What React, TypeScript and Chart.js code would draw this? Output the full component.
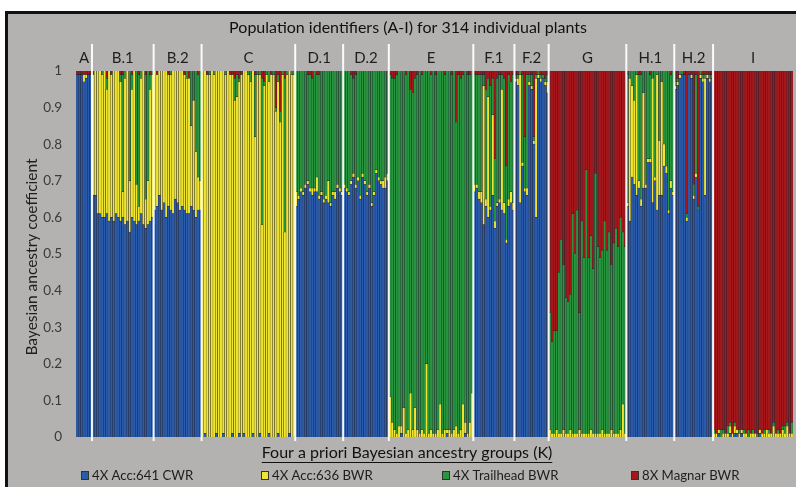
import React, { useEffect, useRef } from 'react';
import { Chart, registerables } from 'chart.js';

Chart.register(...registerables);

// ---------------- data ----------------
const groupNames = ['A', 'B.1', 'B.2', 'C', 'D.1', 'D.2', 'E', 'F.1', 'F.2', 'G', 'H.1', 'H.2', 'I'];
const groupSizes = [7, 27, 21, 41, 21, 20, 37, 18, 15, 34, 21, 17, 35];

const seriesNames = ['4X Acc:641 CWR', '4X Acc:636 BWR', '4X Trailhead BWR', '8X Magnar BWR'];

const yTickLabels = ['0', '0.1', '0.2', '0.3', '0.4', '0.5', '0.6', '0.7', '0.8', '0.9', '1'];

// ancestry coefficients in percent, one value per plant
const blueVals = [
  99, 99, 99, 97, 98, 99, 99, // A
  66, 66, 61, 61, 60, 60, 61, 59, 60, 59, 61, 60, 59, 60, 58, 59, 56, 60, 59, 58, 59, 61, 58, 57, 58, 59, 60, // B.1
  62, 63, 66, 62, 64, 60, 63, 62, 61, 65, 64, 62, 63, 62, 61, 61, 63, 62, 60, 62, 62, // B.2
  0, 1, 0, 0, 0, 0, 1, 0, 0, 1, 0, 0, 0, 1, 0, 0, 1, 0, 1, 0, 0, 0, 1, 0, 0, 1, 0, 0, 0, 1, 0, 0, 0, 1, 0, 0, 0, 0, 1, 0, 0, // C
  63, 65, 67, 66, 68, 69, 67, 66, 67, 67, 65, 66, 64, 65, 64, 63, 66, 65, 68, 67, 66, // D.1
  68, 67, 66, 69, 71, 68, 70, 65, 71, 69, 66, 68, 63, 66, 72, 70, 69, 68, 68, 70, // D.2
  0, 0, 0, 0, 0, 1, 0, 0, 0, 0, 0, 0, 0, 0, 0, 0, 0, 0, 0, 0, 0, 0, 0, 0, 0, 1, 0, 0, 0, 0, 0, 0, 0, 1, 0, 0, 0, // E
  67, 68, 65, 64, 58, 63, 60, 62, 66, 57, 63, 64, 62, 61, 53, 63, 64, 62, // F.1
  97, 96, 64, 74, 67, 66, 96, 95, 80, 60, 98, 97, 98, 96, 94, // F.2
  0, 0, 0, 0, 0, 0, 0, 0, 0, 0, 0, 0, 0, 0, 0, 0, 0, 0, 0, 0, 0, 0, 0, 0, 0, 0, 0, 0, 0, 0, 0, 0, 0, 0, // G
  63, 59, 71, 69, 66, 68, 63, 68, 68, 75, 75, 64, 70, 62, 66, 66, 74, 72, 61, 68, 66, // H.1
  95, 96, 98, 99, 99, 59, 99, 98, 65, 71, 62, 98, 97, 66, 98, 97, 98, // H.2
  0, 0, 1, 0, 0, 0, 0, 1, 0, 1, 1, 0, 1, 0, 0, 0, 0, 0, 0, 0, 1, 0, 0, 0, 0, 0, 0, 0, 0, 0, 0, 0, 0, 0, 0, // I
];

const yellowVals = [
  0, 0, 0, 2, 1, 0, 0, // A
  33, 34, 39, 39, 39, 40, 34, 41, 39, 41, 39, 40, 38, 7, 40, 41, 14, 35, 41, 11, 4, 37, 42, 8, 12, 36, 39, // B.1
  38, 36, 34, 38, 36, 40, 36, 37, 39, 35, 36, 38, 37, 37, 37, 37, 22, 30, 18, 9, 8, // B.2
  100, 99, 99, 99, 100, 99, 99, 100, 100, 99, 99, 100, 99, 98, 92, 93, 96, 99, 99, 100, 99, 97, 99, 82, 99, 98, 58, 96, 99, 96, 99, 99, 89, 96, 86, 99, 56, 99, 99, 99, 99, // C
  4, 1, 1, 1, 1, 1, 1, 2, 1, 4, 1, 1, 1, 1, 6, 1, 1, 2, 1, 1, 1, // D.1
  1, 1, 1, 1, 1, 1, 1, 1, 1, 1, 1, 1, 1, 1, 1, 1, 1, 2, 3, 2, // D.2
  11, 4, 2, 1, 3, 2, 8, 1, 2, 12, 2, 8, 2, 1, 2, 1, 20, 1, 2, 1, 1, 2, 9, 1, 2, 1, 2, 1, 2, 3, 1, 2, 9, 3, 1, 4, 12, // E
  2, 1, 2, 3, 38, 2, 33, 1, 22, 2, 1, 1, 33, 3, 1, 2, 3, 2, // F.1
  1, 2, 35, 1, 1, 2, 1, 1, 1, 38, 1, 1, 0, 1, 3, // F.2
  2, 1, 1, 2, 1, 1, 2, 1, 1, 2, 1, 1, 1, 2, 1, 1, 1, 1, 2, 1, 1, 1, 1, 2, 1, 1, 1, 2, 1, 1, 1, 2, 9, 1, // G
  1, 39, 25, 23, 33, 2, 2, 26, 1, 1, 1, 34, 1, 37, 15, 31, 6, 2, 1, 2, 1, // H.1
  1, 1, 1, 0, 0, 1, 0, 1, 1, 1, 0, 1, 1, 32, 1, 1, 0, // H.2
  1, 1, 1, 0, 1, 1, 1, 2, 1, 2, 1, 1, 1, 1, 1, 0, 1, 1, 1, 0, 1, 1, 1, 2, 1, 1, 3, 1, 1, 1, 2, 1, 3, 1, 1, // I
];

const greenVals = [
  0, 0, 0, 0, 0, 0, 0, // A
  0, 0, 0, 0, 1, 0, 3, 0, 0, 0, 0, 0, 2, 32, 2, 0, 30, 4, 0, 31, 36, 2, 0, 34, 30, 4, 1, // B.1
  0, 0, 0, 0, 0, 0, 0, 1, 0, 0, 0, 0, 0, 0, 2, 0, 15, 8, 22, 28, 30, // B.2
  0, 0, 0, 1, 0, 1, 0, 0, 0, 0, 1, 0, 0, 0, 6, 6, 1, 0, 0, 0, 1, 3, 0, 17, 1, 1, 40, 1, 1, 3, 0, 1, 1, 2, 3, 1, 42, 1, 0, 1, 1, // C
  33, 34, 32, 33, 31, 29, 31, 30, 32, 28, 33, 33, 35, 34, 30, 36, 33, 33, 31, 32, 33, // D.1
  31, 32, 33, 29, 26, 30, 29, 34, 28, 30, 33, 31, 36, 33, 27, 29, 30, 30, 29, 28, // D.2
  88, 94, 96, 98, 97, 97, 92, 98, 98, 83, 92, 90, 97, 99, 97, 99, 80, 99, 97, 99, 98, 98, 91, 99, 97, 98, 98, 98, 98, 83, 98, 96, 90, 96, 98, 95, 88, // E
  30, 30, 32, 32, 3, 30, 5, 33, 10, 17, 34, 34, 4, 34, 20, 34, 30, 35, // F.1
  1, 1, 1, 24, 14, 31, 2, 3, 1, 1, 1, 1, 1, 1, 2, // F.2
  32, 25, 28, 27, 44, 53, 45, 37, 36, 37, 60, 49, 61, 32, 58, 48, 72, 48, 53, 45, 71, 51, 48, 49, 58, 50, 55, 45, 52, 56, 51, 58, 47, 51, // G
  35, 2, 4, 8, 1, 29, 34, 6, 31, 24, 23, 2, 29, 1, 19, 3, 20, 26, 38, 29, 33, // H.1
  1, 1, 1, 1, 0, 1, 0, 0, 3, 27, 1, 1, 1, 1, 0, 1, 1, // H.2
  1, 0, 0, 2, 1, 0, 2, 1, 0, 1, 0, 1, 0, 1, 0, 2, 0, 1, 0, 1, 0, 0, 1, 0, 1, 0, 1, 0, 1, 0, 1, 2, 1, 0, 3, // I
];

const redVals = [
  1, 1, 1, 1, 1, 1, 1, // A
  1, 0, 0, 0, 0, 0, 2, 0, 1, 0, 0, 0, 1, 1, 0, 0, 0, 1, 0, 0, 1, 0, 0, 1, 0, 1, 0, // B.1
  0, 1, 0, 0, 0, 0, 1, 0, 0, 0, 0, 0, 0, 1, 0, 2, 0, 0, 0, 1, 0, // B.2
  0, 0, 1, 0, 0, 0, 0, 0, 0, 0, 0, 0, 1, 1, 2, 1, 2, 1, 0, 0, 0, 0, 0, 1, 0, 0, 2, 3, 0, 0, 1, 0, 10, 1, 11, 0, 2, 0, 0, 0, 0, // C
  0, 0, 0, 0, 0, 1, 1, 2, 0, 1, 1, 0, 0, 0, 0, 0, 0, 0, 0, 0, 0, // D.1
  0, 0, 0, 1, 2, 1, 0, 0, 0, 0, 0, 0, 0, 0, 0, 0, 0, 0, 0, 0, // D.2
  1, 2, 2, 1, 0, 0, 0, 1, 0, 5, 6, 2, 1, 0, 1, 0, 0, 0, 1, 0, 1, 0, 0, 0, 1, 0, 0, 1, 0, 14, 1, 2, 1, 0, 1, 1, 0, // E
  1, 1, 1, 1, 1, 5, 2, 4, 2, 24, 2, 1, 1, 2, 26, 1, 3, 1, // F.1
  1, 1, 0, 1, 18, 1, 1, 1, 18, 1, 0, 1, 1, 2, 1, // F.2
  66, 74, 71, 71, 55, 46, 53, 62, 63, 61, 39, 50, 38, 66, 41, 51, 27, 51, 45, 54, 28, 48, 51, 49, 41, 49, 44, 53, 47, 43, 48, 40, 44, 48, // G
  1, 0, 0, 0, 0, 1, 1, 0, 0, 0, 1, 0, 0, 0, 0, 0, 0, 0, 0, 1, 0, // H.1
  3, 2, 0, 0, 1, 39, 1, 1, 31, 1, 37, 0, 1, 1, 1, 1, 1, // H.2
  98, 99, 98, 98, 98, 99, 97, 96, 99, 96, 98, 98, 98, 98, 99, 98, 99, 98, 99, 99, 98, 99, 98, 98, 98, 99, 96, 99, 98, 99, 97, 97, 96, 99, 96, // I
];

// ---------------- styles ----------------
const W = 796;
const H = 487;
const FONT = 'Lato, "Open Sans", sans-serif';
const seriesColors = ['#2a5cab', '#f0e531', '#29963f', '#a5171a'];
const barEdge = 'rgba(25,25,40,0.9)';

const plantLabels = groupNames.flatMap((g, gi) =>
  Array.from({ length: groupSizes[gi] }, (_, k) => `${g}-${k + 1}`)
);

const legendX = [81, 261, 442, 631];

const decorPlugin = {
  id: 'decor',
  afterDatasetsDraw(chart: any) {
    const { ctx, chartArea, scales } = chart;
    const xs = scales.x;
    const step = xs.getPixelForValue(1) - xs.getPixelForValue(0);
    const bounds: number[] = [chartArea.left];
    let cum = 0;
    groupSizes.forEach((n) => {
      cum += n;
      bounds.push(cum < plantLabels.length ? xs.getPixelForValue(cum) - step / 2 : chartArea.right);
    });

    ctx.save();
    // white separators
    ctx.strokeStyle = 'rgba(255,255,255,0.95)';
    ctx.lineWidth = 2;
    for (let i = 1; i < bounds.length - 1; i++) {
      ctx.beginPath();
      ctx.moveTo(bounds[i], chartArea.top - 27);
      ctx.lineTo(bounds[i], chartArea.bottom + 4);
      ctx.stroke();
    }
    // group labels
    ctx.fillStyle = '#1e1e1e';
    ctx.font = `15px ${FONT}`;
    ctx.textAlign = 'center';
    ctx.textBaseline = 'middle';
    groupNames.forEach((g, i) => {
      ctx.fillText(g, (bounds[i] + bounds[i + 1]) / 2, chartArea.top - 13);
    });

    // title
    ctx.font = `16px ${FONT}`;
    ctx.fillStyle = '#111';
    ctx.fillText('Population identifiers (A-I) for 314 individual plants', 408, 28);

    // y title
    ctx.save();
    ctx.translate(32, (chartArea.top + chartArea.bottom) / 2 + 3);
    ctx.rotate(-Math.PI / 2);
    ctx.font = `15.5px ${FONT}`;
    ctx.fillStyle = '#1e1e1e';
    ctx.fillText('Bayesian ancestry coefficient', 0, 0);
    ctx.restore();

    // x title underlined
    const xt = 'Four a priori Bayesian ancestry groups (K)';
    ctx.font = `16px ${FONT}`;
    ctx.fillStyle = '#111';
    ctx.fillText(xt, 407, 453);
    const tw = ctx.measureText(xt).width;
    ctx.strokeStyle = '#111';
    ctx.lineWidth = 1;
    ctx.beginPath();
    ctx.moveTo(407 - tw / 2, 462.5);
    ctx.lineTo(407 + tw / 2, 462.5);
    ctx.stroke();

    // legend
    ctx.font = `13.2px ${FONT}`;
    ctx.textAlign = 'left';
    seriesNames.forEach((name, i) => {
      const x = legendX[i];
      ctx.fillStyle = seriesColors[i];
      ctx.fillRect(x, 471, 8, 9);
      ctx.strokeStyle = '#333';
      ctx.lineWidth = 1;
      ctx.strokeRect(x + 0.5, 471.5, 7, 8);
      ctx.fillStyle = '#1e1e1e';
      ctx.fillText(name, x + 11, 476);
    });
    ctx.restore();
  },
};

export default function App() {
  const ref = useRef<HTMLCanvasElement | null>(null);

  useEffect(() => {
    if (!ref.current) return;
    const series = [blueVals, yellowVals, greenVals, redVals];
    const chart = new Chart(ref.current, {
      type: 'bar',
      data: {
        labels: plantLabels,
        datasets: series.map((vals, i) => ({
          label: seriesNames[i],
          data: vals.map((v) => v / 100),
          backgroundColor: seriesColors[i],
          borderColor: barEdge,
          borderWidth: 0.45,
          borderSkipped: false,
          categoryPercentage: 1,
          barPercentage: 1,
        })),
      },
      options: {
        responsive: false,
        animation: false,
        devicePixelRatio: 1,
        layout: { padding: { top: 71, bottom: 50, left: 0, right: 3 } },
        plugins: {
          legend: { display: false },
          title: { display: false },
          tooltip: { enabled: false },
        },
        scales: {
          x: { stacked: true, display: false },
          y: {
            stacked: true,
            min: 0,
            max: 1,
            afterFit: (s: any) => {
              s.width = 76;
            },
            grid: { display: false, drawTicks: false },
            border: { display: false },
            ticks: {
              stepSize: 0.1,
              padding: 14,
              color: '#3a3a3a',
              font: { family: FONT, size: 13.5 },
              callback: (_v: any, i: number) => yTickLabels[i],
            },
          },
        },
      },
      plugins: [decorPlugin],
    });
    return () => chart.destroy();
  }, []);

  return (
    <div style={{ position: 'fixed', left: 0, top: 0, width: W, height: H, background: '#fff', overflow: 'hidden' }}>
      <div
        style={{
          position: 'absolute',
          left: 5,
          top: 11,
          width: 830,
          height: 520,
          background: '#b4b2b0',
          borderTop: '3px solid #111',
          borderLeft: '3px solid #111',
        }}
      />
      <canvas ref={ref} width={W} height={H} style={{ position: 'absolute', left: 0, top: 0, width: W, height: H }} />
    </div>
  );
}
